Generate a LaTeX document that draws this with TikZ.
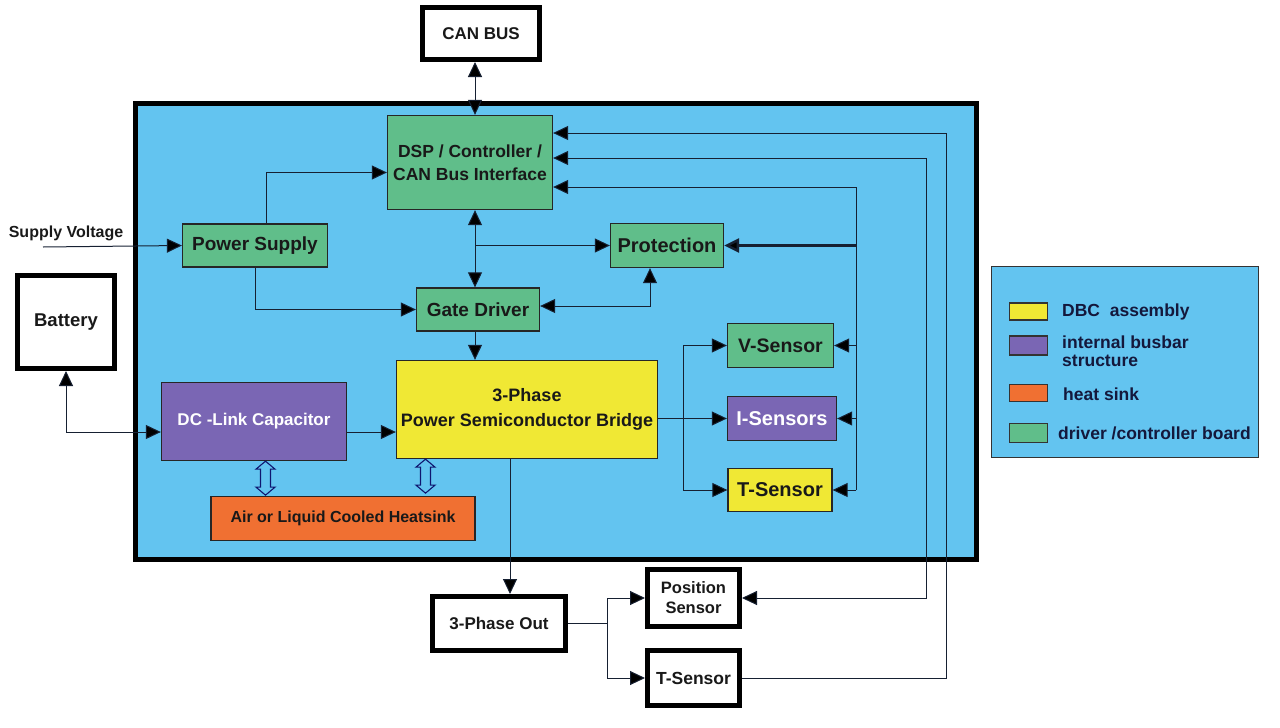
\documentclass[tikz,border=0pt]{standalone}
\usepackage{fontspec}
\setmainfont{Liberation Sans}
\usetikzlibrary{arrows.meta}

\definecolor{boxblue}{RGB}{99,196,240}
\definecolor{boardgreen}{RGB}{96,190,138}
\definecolor{dbcyellow}{RGB}{240,232,52}
\definecolor{busbar}{RGB}{122,102,180}
\definecolor{sinkorange}{RGB}{240,112,50}
\definecolor{wire}{RGB}{22,32,50}
\definecolor{legendtext}{RGB}{20,24,60}

\tikzset{
  Tri/.tip={Triangle[length=15pt,width=14pt,fill=black]},
  fsz/.style 2 args={font=\bfseries\fontsize{#1}{#2}\selectfont},
  blk/.style={draw=black!85, line width=1.3pt, align=center, inner sep=0pt, text=black!90},
  board/.style={blk, fill=boardgreen},
  dbc/.style={blk, fill=dbcyellow},
  bus/.style={blk, fill=busbar, text=white},
  sink/.style={blk, fill=sinkorange},
  ext/.style={draw=black, line width=5pt, fill=white, align=center, inner sep=0pt, text=black!90},
  swatch/.style={draw=black!80, line width=1.2pt, minimum width=38pt, minimum height=17pt, inner sep=0pt},
  lgtext/.style={fsz={17.5}{18}, text=legendtext, anchor=west, align=left, inner sep=0pt},
  arr/.style={draw=wire, line width=1pt, -Tri},
  both/.style={draw=wire, line width=1pt, Tri-Tri},
  cool/.pic={\draw[draw=wire!70!blue, line width=1.1pt, fill=boxblue]
    (0,0) -- (9.5,8) -- (5,8) -- (5,26) -- (9.5,26) -- (0,34) -- (-9.5,26)
    -- (-5,26) -- (-5,8) -- (-9.5,8) -- cycle;}
}

\begin{document}
\begin{tikzpicture}[x=1pt,y=-1pt]
  \useasboundingbox (0,0) rectangle (1280,728);
  % housing and legend frame
  \draw[line width=5pt, fill=boxblue] (135,103) rectangle (976,559);
  \draw[line width=1pt, draw=black!80, fill=boxblue] (991,266) rectangle (1258,457);

  % blocks inside the inverter
  \node[board, fsz={17.5}{23}, minimum width=165pt, minimum height=94pt] (dsp) at (470,162.5) {DSP / Controller /\\CAN Bus Interface};
  \node[board, fsz={19}{22}, minimum width=145pt, minimum height=43pt] (psu) at (255,245.5) {Power Supply};
  \node[board, fsz={20}{22}, minimum width=113pt, minimum height=44pt] (prot) at (667,245.5) {Protection};
  \node[board, fsz={19}{22}, minimum width=123pt, minimum height=43pt] (gate) at (478,309.5) {Gate Driver};
  \node[board, fsz={19.5}{22}, minimum width=106pt, minimum height=44pt] (vsens) at (780.5,345.5) {V-Sensor};
  \node[bus, fsz={20}{22}, minimum width=109pt, minimum height=44pt] (isens) at (782,418.5) {I-Sensors};
  \node[dbc, fsz={20}{22}, minimum width=104pt, minimum height=43pt] (tsens) at (780,490) {T-Sensor};
  \node[dbc, fsz={18}{25}, minimum width=261pt, minimum height=98pt] (bridge) at (527,409.5) {3-Phase\\Power Semiconductor Bridge};
  \node[bus, fsz={17}{20}, minimum width=185pt, minimum height=78pt] (dclink) at (254,421.5) {DC -Link Capacitor};
  \node[sink, fsz={16}{19}, minimum width=264pt, minimum height=44pt] (heat) at (343,518.5) {Air or Liquid Cooled Heatsink};

  % outside blocks
  \node[ext, fsz={17}{20}, minimum width=117pt, minimum height=52pt] (canbus) at (481,33.5) {CAN BUS};
  \node[ext, fsz={18.5}{21}, minimum width=97pt, minimum height=93pt] (battery) at (66,322) {Battery};
  \node[ext, fsz={17}{20}, minimum width=133pt, minimum height=54pt] (threeout) at (499,623.5) {3-Phase Out};
  \node[ext, fsz={16.5}{20}, minimum width=92pt, minimum height=57pt] (possens) at (693.5,598) {Position\\Sensor};
  \node[ext, fsz={17.5}{20}, minimum width=92pt, minimum height=55pt] (tout) at (693.5,678) {T-Sensor};
  \node[fsz={16}{19}, inner sep=0pt, text=black!90] (supv) at (66,233) {Supply Voltage};
  \coordinate (supin) at (43,247);

  % legend
  \node[swatch, fill=dbcyellow] (lgdbc) at (1028.5,311.5) {};
  \node[swatch, fill=busbar, minimum height=19pt] (lgbus) at (1028.5,345.5) {};
  \node[swatch, fill=sinkorange] (lgsink) at (1028.5,393) {};
  \node[swatch, fill=boardgreen, minimum height=19pt] (lgboard) at (1028.5,433) {};
  \node[lgtext] (lgdbct) at (1062,312) {DBC~ assembly};
  \node[lgtext] (lgbust) at (1062,351) {internal busbar\\structure};
  \node[lgtext] (lgsinkt) at (1063,394) {heat sink};
  \node[lgtext] (lgboardt) at (1058,433) {driver /controller board};

  % routing columns
  \coordinate (spine) at (475,0);
  \coordinate (fork) at (683,0);
  \coordinate (rbus) at (856,0);
  \coordinate (outA) at (926,0);
  \coordinate (outB) at (946,0);
  \coordinate (tap) at (510,0);
  \coordinate (split) at (607,0);

  % connectors
  \draw[both] (canbus.south -| spine) -- (dsp.north -| spine);
  \draw[arr] (supin) -- (psu.west);
  \draw[arr] ([xshift=11pt]psu.north) |- ([yshift=-10pt]dsp.west);
  \draw[arr] (psu.south) |- (gate.west);
  \draw[both] (dsp.south -| spine) -- (gate.north -| spine);
  \draw[arr] (spine |- prot.west) -- (prot.west);
  \draw[both] ([yshift=3.5pt]gate.east) -| ([xshift=-17pt]prot.south);
  \draw[arr] (gate.south -| spine) -- (bridge.north -| spine);
  \draw[arr] ([yshift=-10.5pt]dclink.east) -- ([yshift=-10.5pt]dclink.east -| bridge.west);
  \draw[both] (battery.south) |- ([yshift=-10.5pt]dclink.west);
  \draw[arr] (bridge.east |- isens.west) -- (isens.west);
  \draw[arr] (fork |- vsens.west) -- (vsens.west);
  \draw[arr] (fork |- vsens.west) |- (tsens.west);
  \draw[draw=wire, line width=1pt] (rbus |- tsens.east) -- ([yshift=-24.5pt]dsp.east -| rbus);
  \draw[arr] ([yshift=-24.5pt]dsp.east -| rbus) -- ([yshift=-24.5pt]dsp.east);
  \draw[arr, line width=2.5pt] (rbus |- prot.east) -- (prot.east);
  \foreach \s in {vsens,isens,tsens}
    \draw[arr] (rbus |- \s.east) -- (\s.east);
  \draw[both] ([yshift=4.5pt]dsp.east) -| (outA |- possens.east) -- (possens.east);
  \draw[arr] (tout.east) -| ([yshift=29.5pt]dsp.east -| outB) -- ([yshift=29.5pt]dsp.east);
  \draw[arr] (bridge.south -| tap) -- (threeout.north -| tap);
  \draw[draw=wire, line width=1pt] (threeout.east) -- (threeout.east -| split);
  \draw[arr] (threeout.east -| split) |- (possens.west);
  \draw[arr] (threeout.east -| split) |- (tout.west);

  % heat paths
  \pic at ([xshift=11.5pt]dclink.south) {cool};
  \pic at ([xshift=-101.5pt]bridge.south) {cool};
\end{tikzpicture}
\end{document}
